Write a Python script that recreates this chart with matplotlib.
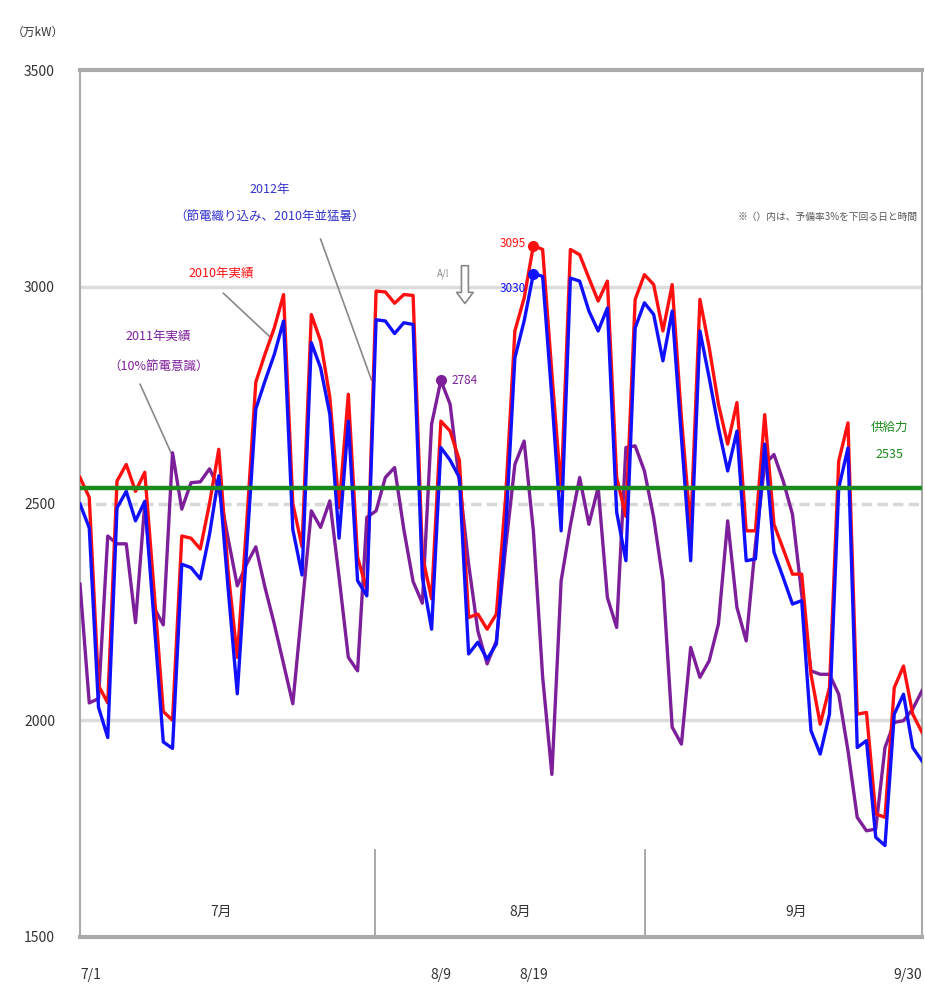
import numpy as np
import matplotlib
matplotlib.use("Agg")
import matplotlib.pyplot as plt

plt.rcParams['font.family'] = ['Noto Sans CJK JP', 'DejaVu Sans']

# daily peak demand (万kW), 7/1 .. 9/30
demand_2010 = [2560, 2514, 2080, 2040, 2552, 2590, 2528, 2572, 2300, 2020,
               2000, 2425, 2420, 2395, 2500, 2625, 2345, 2145, 2450, 2780,
               2845, 2905, 2982, 2500, 2400, 2936, 2875, 2745, 2490, 2752,
               2376, 2300, 2990, 2988, 2962, 2982, 2980, 2380, 2280, 2690,
               2667, 2600, 2237, 2245, 2210, 2245, 2514, 2898, 2974, 3095,
               3086, 2800, 2529, 3086, 3074, 3020, 2967, 3013, 2560, 2470,
               2971, 3028, 3005, 2898, 3005, 2698, 2440, 2971, 2860, 2729,
               2637, 2733, 2437, 2437, 2705, 2452, 2395, 2337, 2337, 2106,
               1991, 2075, 2598, 2686, 2014, 2018, 1784, 1776, 2075, 2125,
               2014, 1972]
demand_2012 = [2499, 2444, 2030, 1960, 2490, 2528, 2460, 2505, 2230, 1950,
               1935, 2360, 2352, 2326, 2429, 2564, 2306, 2061, 2390, 2718,
               2783, 2844, 2921, 2440, 2335, 2871, 2813, 2706, 2420, 2690,
               2322, 2287, 2924, 2921, 2892, 2917, 2913, 2330, 2210, 2629,
               2600, 2560, 2153, 2180, 2141, 2176, 2437, 2836, 2921, 3030,
               3024, 2744, 2437, 3020, 3013, 2944, 2898, 2951, 2480, 2368,
               2905, 2963, 2936, 2829, 2944, 2652, 2368, 2898, 2790, 2675,
               2575, 2667, 2368, 2372, 2637, 2388, 2329, 2268, 2276, 1976,
               1922, 2014, 2536, 2628, 1937, 1953, 1730, 1711, 2014, 2060,
               1937, 1906]
demand_2011 = [2314, 2040, 2050, 2425, 2407, 2407, 2225, 2500, 2260, 2220,
               2617, 2487, 2548, 2550, 2580, 2535, 2420, 2310, 2360, 2400,
               2306, 2222, 2130, 2038, 2260, 2483, 2445, 2506, 2330, 2145,
               2114, 2468, 2483, 2560, 2583, 2440, 2320, 2270, 2683, 2784,
               2729, 2552, 2360, 2206, 2130, 2183, 2398, 2590, 2644, 2437,
               2100, 1875, 2322, 2450, 2560, 2452, 2537, 2283, 2214, 2629,
               2633, 2575, 2468, 2322, 1984, 1945, 2168, 2099, 2137, 2222,
               2460, 2260, 2183, 2406, 2590, 2613, 2552, 2475, 2290, 2114,
               2106, 2106, 2060, 1930, 1776, 1745, 1749, 1937, 1995, 1999,
               2026, 2068]
supply = 2535
y_ticks = [1500, 2000, 2500, 3000, 3500]
x_tick_idx = [0, 39, 49, 91]
x_tick_labels = ['7/1', '8/9', '8/19', '9/30']
months = ['7月', '8月', '9月']

x = np.arange(len(demand_2010))

fig = plt.figure(figsize=(9.25, 9.89), dpi=100)
ax = fig.add_axes([80/925, 1-937/989, 842/925, 867/989])

ax.set_xlim(0, 91)
ax.set_ylim(1500, 3500)

# grid lines
for v in (2000, 3000):
    ax.axhline(v, color='#dcdcdc', lw=2.5, zorder=1)
ax.axhline(2500, color='#d8d8d8', lw=2.5, ls=(0, (3, 1.5)), zorder=1)

red = '#ff1010'
blue = '#1010ff'
purple = '#7d1f9a'
green = '#1a8a1a'

ax.plot(x, demand_2011, color=purple, lw=2.4, zorder=3)
ax.plot(x, demand_2010, color=red, lw=2.4, zorder=4)
ax.plot(x, demand_2012, color=blue, lw=2.4, zorder=5)
ax.axhline(supply, color=green, lw=3.2, zorder=6)

# peak markers
i_r = int(np.argmax(demand_2010))
i_b = int(np.argmax(demand_2012))
i_p = int(np.argmax(demand_2011))
ax.plot(x[i_r], demand_2010[i_r], 'o', color=red, ms=7, zorder=7)
ax.plot(x[i_b], demand_2012[i_b], 'o', color=blue, ms=7, zorder=7)
ax.plot(x[i_p], demand_2011[i_p], 'o', color=purple, ms=7, zorder=7)
ax.text(x[i_r] - 0.8, demand_2010[i_r] + 5, str(demand_2010[i_r]), color=red,
        fontsize=8.5, ha='right', va='center', zorder=8)
ax.text(x[i_b] - 0.8, demand_2012[i_b] - 35, str(demand_2012[i_b]), color=blue,
        fontsize=8.5, ha='right', va='center', zorder=8)
ax.text(x[i_p] + 1.2, demand_2011[i_p], str(demand_2011[i_p]), color=purple,
        fontsize=8.5, ha='left', va='center', zorder=8)

# series labels with leader lines
ax.text(20.5, 3225, '2012年', color='#3333cc', fontsize=9, ha='center', va='center')
ax.text(20.5, 3160, '（節電織り込み、2010年並猛暑）', color='#3333cc', fontsize=9,
        ha='center', va='center')
ax.plot([26.0, 31.5], [3110, 2785], color='#888888', lw=1.2, zorder=2)
ax.text(15.3, 3030, '2010年実績', color=red, fontsize=9, ha='center', va='center')
ax.plot([15.5, 20.5], [2985, 2885], color='#888888', lw=1.2, zorder=2)
ax.text(8.5, 2885, '2011年実績', color=purple, fontsize=9, ha='center', va='center')
ax.text(8.5, 2815, '（10%節電意識）', color=purple, fontsize=9, ha='center', va='center')
ax.plot([6.5, 10.2], [2775, 2600], color='#888888', lw=1.2, zorder=2)

# hollow down arrow
ax.annotate('', xy=(41.6, 2955), xytext=(41.6, 3055),
            arrowprops=dict(arrowstyle='simple,head_width=1.2,head_length=0.8,tail_width=0.5',
                            fc='white', ec='#888888', lw=1.2), zorder=8)
ax.text(39.9, 3030, 'A/!', color='#888888', fontsize=7, ha='right', va='center')

ax.text(90.5, 3160, '※（）内は、予備率3%を下回る日と時間', color='#555555',
        fontsize=7, ha='right', va='center')
ax.text(87.5, 2675, '供給力', color=green, fontsize=9, ha='center', va='center')
ax.text(87.5, 2612, '2535', color=green, fontsize=9, ha='center', va='center')

# month separators and labels
for sx in (31.9, 61.1):
    ax.plot([sx, sx], [1500, 1700], color='#999999', lw=1.2, zorder=2)
for mx, m in zip((15.2, 47.6, 77.4), months):
    ax.text(mx, 1558, m, color='#333333', fontsize=10, ha='center', va='center')

# axes styling
for s in ax.spines.values():
    s.set_color('#aaaaaa')
    s.set_linewidth(1.5)
ax.spines['top'].set_linewidth(3)
ax.spines['bottom'].set_linewidth(3)

ax.set_yticks(y_ticks)
ax.set_yticklabels([str(v) for v in y_ticks], fontsize=10, color='#333333')
ax.tick_params(axis='y', length=0, pad=18)
ax.set_xticks(x_tick_idx)
xt = ax.set_xticklabels(x_tick_labels, fontsize=10, color='#333333')
xt[0].set_ha('left')
xt[-1].set_ha('right')
ax.tick_params(axis='x', length=0, pad=22)

fig.text(38/925, 1-32/989, '（万kW）', fontsize=8.5, color='#333333', ha='center', va='center')

fig.savefig('out.png', dpi=100, facecolor='white')
